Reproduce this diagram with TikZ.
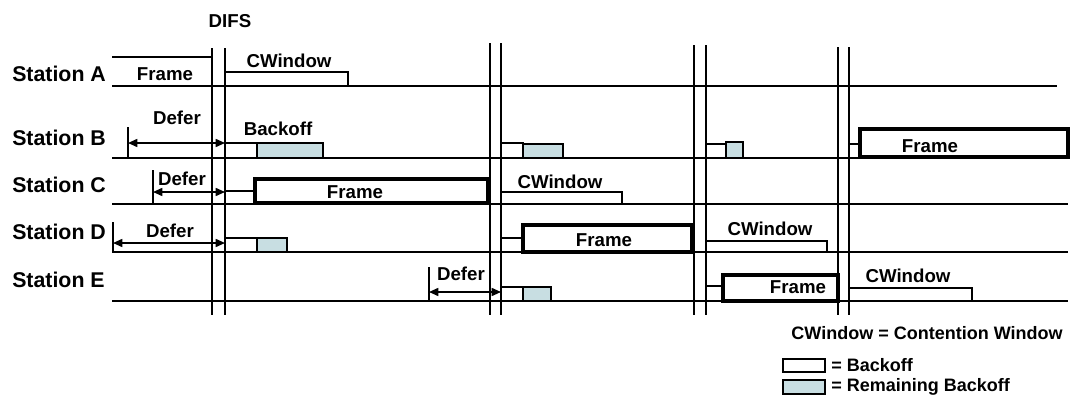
\documentclass[tikz,border=0pt]{standalone}
\usepackage{fontspec}
\setmainfont{Liberation Sans}
\usetikzlibrary{arrows.meta}
\definecolor{remain}{RGB}{200,222,226}
\begin{document}
\begin{tikzpicture}[x=0.75pt,y=-0.75pt,
  lbl/.style={font=\bfseries\fontsize{14}{16}\selectfont, inner sep=0pt, text height=10pt, text depth=0pt},
  stn/.style={font=\bfseries\fontsize{16}{18}\selectfont, inner sep=0pt, text height=11.5pt, text depth=0pt, anchor=west},
  leg/.style={font=\bfseries\fontsize{13.5}{16}\selectfont, inner sep=0pt, text height=9.7pt, text depth=0pt},
  tl/.style={line width=1.2pt},
  frm/.style={line width=2.6pt, fill=white},
  bk/.style={line width=1.2pt, fill=white},
  rb/.style={line width=1.2pt, fill=remain},
  defer/.style={line width=1.2pt, {Triangle[length=7pt,width=6pt]}-{Triangle[length=7pt,width=6pt]}}
]
\useasboundingbox (0,0) rectangle (1071,396);

% station labels
\node[stn] (sA) at (12,74) {Station A};
\node[stn] (sB) at (12,138) {Station B};
\node[stn] (sC) at (12,185) {Station C};
\node[stn] (sD) at (12,232) {Station D};
\node[stn] (sE) at (12,280) {Station E};
\node[lbl] (difs) at (230,21) {DIFS};

% baselines
\draw[tl] (212,86) -- (1057,86);
\draw[tl] (112,158) -- (1068,158);
\draw[tl] (112,204) -- (1068,204);
\draw[tl] (112,252) -- (1068,252);
\draw[tl] (112,301) -- (1068,301);

% Station A
\draw[line width=2.2pt] (112,57) -- (212,57) -- (212,86) -- (112,86);
\node[lbl] (aF) at (165,74) {Frame};
\draw[bk] (225,72) rectangle (348,86);
\node[lbl] (aCW) at (289,61) {CWindow};

% Station B
\coordinate (bT) at (128,143);
\coordinate (bR) at (225,143);
\draw[tl] (128,127) -- (128,158);
\draw[defer] (bT) -- (bR);
\node[lbl] (bD) at (177,118) {Defer};
\draw[bk] (225,143) rectangle (257,158);
\draw[rb] (257,143) rectangle (323,158);
\node[lbl] (bB) at (278,129) {Backoff};
\draw[bk] (501,143) rectangle (523,158);
\draw[rb] (523,144) rectangle (563,158);
\draw[bk] (706,144) rectangle (726,158);
\draw[rb] (726,142) rectangle (743,158);
\draw[bk] (849,144) rectangle (860,158);
\draw[frm] (860,129) rectangle (1068,157);
\node[lbl] (bF) at (930,146) {Frame};

% Station C
\coordinate (cT) at (153,192);
\coordinate (cR) at (225,192);
\draw[tl] (153,170) -- (153,204);
\draw[defer] (cT) -- (cR);
\node[lbl] (cD) at (182,179) {Defer};
\draw[bk] (225,191) rectangle (255,204);
\draw[frm] (255,179) rectangle (488,203);
\node[lbl] (cF) at (355,192) {Frame};
\draw[bk] (501,192) rectangle (622,204);
\node[lbl] (cCW) at (560,182) {CWindow};

% Station D
\coordinate (dT) at (113,243);
\coordinate (dR) at (225,243);
\draw[tl] (113,222) -- (113,252);
\draw[defer] (dT) -- (dR);
\node[lbl] (dD) at (170,231) {Defer};
\draw[bk] (225,238) rectangle (257,252);
\draw[rb] (257,238) rectangle (287,252);
\draw[bk] (501,238) rectangle (523,252);
\draw[frm] (523,225) rectangle (692,252);
\node[lbl] (dF) at (604,240) {Frame};
\draw[bk] (706,241) rectangle (827,252);
\node[lbl] (dCW) at (770,229) {CWindow};

% Station E
\coordinate (eT) at (429,292);
\coordinate (eR) at (501,292);
\draw[tl] (429,267) -- (429,301);
\draw[defer] (eT) -- (eR);
\node[lbl] (eD) at (461,274) {Defer};
\draw[bk] (501,287) rectangle (523,301);
\draw[rb] (523,287) rectangle (551,301);
\draw[bk] (706,286) rectangle (723,301);
\draw[frm] (723,275) rectangle (838,301);
\node[lbl] (eF) at (798,287) {Frame};
\draw[bk] (849,288) rectangle (972,301);
\node[lbl] (eCW) at (908,276) {CWindow};

% DIFS vertical line pairs
\foreach \xa/\xb/\yt in {212/225/48, 490/501/43, 694/706/45, 838/849/47}{
  \draw[tl] (\xa,\yt) -- (\xa,315);
  \draw[tl] (\xb,\yt) -- (\xb,315);
}

% legend
\node[leg] (legCW) at (927,333) {CWindow = Contention Window};
\draw[bk] (783,359) rectangle (825,372);
\node[leg, anchor=west] (legB) at (831,365) {= Backoff};
\draw[rb] (783,380) rectangle (825,394);
\node[leg, anchor=west] (legR) at (831,385) {= Remaining Backoff};
\end{tikzpicture}
\end{document}
